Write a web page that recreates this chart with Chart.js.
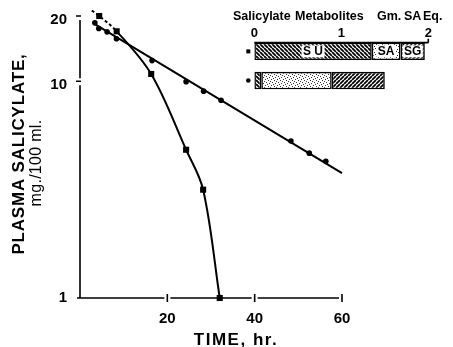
<!DOCTYPE html>
<html><head><meta charset="utf-8">
<script src="https://cdn.jsdelivr.net/npm/chart.js@4"></script>
<style>html,body{margin:0;padding:0;background:#fff}#wrap{position:relative;width:453px;height:347px}canvas{position:absolute;left:0;top:0}</style>
</head><body><div id="wrap"><canvas id="main" width="453" height="347"></canvas><canvas id="inset" width="453" height="347"></canvas></div>
<script>
const FONT = '"Liberation Sans", Arial, Helvetica, sans-serif';

// ---- main plot data (time in hr, plasma salicylate mg/100 ml) ----
const squareLeadTime = [2.7];
const squareLeadLevel = [21.2];
const squareTime  = [4.4, 8.4, 16.3, 24.3, 28.2, 32.0];
const squareLevel = [20.0, 17.0, 10.8, 4.83, 3.16, 1.0];
const circleTime  = [3.4, 4.3, 6.2, 8.35, 16.5, 24.3, 28.3, 32.3, 48.3, 52.5, 56.3];
const circleLevel = [18.6, 17.5, 16.9, 15.7, 12.45, 9.96, 9.0, 8.17, 5.3, 4.66, 4.27];
const circleLineTime  = [3.3, 60];
const circleLineLevel = [18.4, 3.77];
const xTicks = [20, 40, 60];
const yTicks = [1, 10, 20];

// ---- inset: salicylate metabolites, Gm. SA Eq. ----
const insetRows = ['square', 'circle'];
const metabSU = [1.35, 0.08];
const metabSA = [0.33, 0.81];
const metabSG = [0.28, 0.61];
const insetTicks = [0, 1, 2];
const segLabels = ['S U', 'SA', 'SG'];

const pts = (xs, ys) => xs.map((v, i) => ({x: v, y: ys[i]}));

const axesPlugin = {
  id: 'axesMain',
  beforeDatasetsDraw(chart) {
    const {ctx, scales: {x, y}} = chart;
    const x0 = x.getPixelForValue(0), y1 = y.getPixelForValue(1);
    const y20 = y.getPixelForValue(20), y10 = y.getPixelForValue(10);
    ctx.save();
    ctx.strokeStyle = '#000'; ctx.lineWidth = 1.6; ctx.lineCap = 'butt';
    ctx.beginPath();
    ctx.moveTo(x0, y20 + 4); ctx.lineTo(x0, y10 - 3);
    ctx.moveTo(x0, y10 + 4); ctx.lineTo(x0, y1);
    [20, 10].forEach(v => { const p = y.getPixelForValue(v); ctx.moveTo(x0 - 4, p); ctx.lineTo(x0 + 1, p); });
    let start = x0 - 3;
    xTicks.forEach(v => {
      const p = x.getPixelForValue(v);
      ctx.moveTo(start, y1); ctx.lineTo(p - 3, y1);
      ctx.moveTo(p, y1 - 4); ctx.lineTo(p, y1 + 4);
      start = p + 3;
    });
    ctx.stroke();
    ctx.restore();
  },
  afterDraw(chart) {
    const {ctx, scales: {x, y}} = chart;
    const x0 = x.getPixelForValue(0), y1 = y.getPixelForValue(1);
    ctx.save();
    ctx.fillStyle = '#000';
    ctx.font = 'bold 15px ' + FONT;
    ctx.textAlign = 'right'; ctx.textBaseline = 'middle';
    yTicks.forEach(v => {
      const p = y.getPixelForValue(v);
      ctx.fillText(String(v), x0 - 13, v === 1 ? p : p + 4);
    });
    ctx.textAlign = 'center';
    xTicks.forEach(v => ctx.fillText(String(v), x.getPixelForValue(v), y1 + 21));
    ctx.font = 'bold 17px ' + FONT;
    ctx.letterSpacing = '1.5px';
    ctx.fillText('TIME, hr.', 236, 340);
    ctx.translate(19, 154);
    ctx.rotate(-Math.PI / 2);
    ctx.letterSpacing = '0.8px';
    ctx.fillText('PLASMA SALICYLATE,', 0, 0);
    ctx.letterSpacing = '0.3px';
    ctx.font = '16px ' + FONT;
    ctx.fillText('mg./100 ml.', -9, 18);
    ctx.restore();
  }
};

new Chart(document.getElementById('main'), {
  type: 'line',
  data: {
    datasets: [
      { data: pts(circleLineTime, circleLineLevel), borderColor: '#000', borderWidth: 2, pointRadius: 0, clip: false },
      { data: pts(circleTime, circleLevel), showLine: false, pointStyle: 'circle', pointRadius: 2.8,
        backgroundColor: '#000', borderColor: '#000', borderWidth: 0, clip: false },
      { data: pts(squareLeadTime.concat(squareTime), squareLeadLevel.concat(squareLevel)),
        borderColor: '#000', borderWidth: 2, tension: 0.35,
        pointStyle: 'rect', pointRadius: c => c.dataIndex === 0 ? 0 : 4.3,
        backgroundColor: '#000', pointBorderWidth: 0, clip: false,
        segment: { borderDash: c => c.p1DataIndex <= 2 ? [3, 2.5] : undefined } }
    ]
  },
  options: {
    responsive: false, animation: false, events: [],
    layout: { padding: { left: 80, right: 111, top: 16, bottom: 49 } },
    plugins: { legend: { display: false }, tooltip: { enabled: false } },
    scales: {
      x: { type: 'linear', min: 0, max: 60, display: false },
      y: { type: 'logarithmic', min: 1, max: 20, display: false }
    }
  },
  plugins: [axesPlugin]
});

// ---- patterns ----
function hatch(forward, step, lw) {
  const c = document.createElement('canvas'); c.width = c.height = step;
  const g = c.getContext('2d');
  g.fillStyle = '#fff'; g.fillRect(0, 0, step, step);
  g.strokeStyle = '#000'; g.lineWidth = lw; g.beginPath();
  for (let k = -1; k <= 1; k++) {
    if (forward) { g.moveTo(k * step, step); g.lineTo(k * step + step, 0); }
    else { g.moveTo(k * step, 0); g.lineTo(k * step + step, step); }
  }
  g.stroke();
  return g.createPattern(c, 'repeat');
}
function stipple() {
  const c = document.createElement('canvas'); c.width = c.height = 6;
  const g = c.getContext('2d');
  g.fillStyle = '#fff'; g.fillRect(0, 0, 6, 6);
  g.fillStyle = '#333';
  [[1,1],[4,2],[2,4],[5,5],[0,3],[3,0]].forEach(([a,b]) => g.fillRect(a, b, 1, 1));
  return g.createPattern(c, 'repeat');
}

const insetPlugin = {
  id: 'insetDeco',
  afterDraw(chart) {
    const {ctx, scales: {x, y}} = chart;
    const x0 = x.getPixelForValue(0), x2 = x.getPixelForValue(2);
    const bar0 = chart.getDatasetMeta(0).data[0].getProps(['y', 'height'], true);
    const bar1 = chart.getDatasetMeta(0).data[1].getProps(['y', 'height'], true);
    const topY = bar0.y - bar0.height / 2;
    ctx.save();
    ctx.strokeStyle = '#000'; ctx.lineWidth = 1.6;
    ctx.beginPath(); ctx.moveTo(x0, topY); ctx.lineTo(x2, topY);
    ctx.moveTo(x2, topY); ctx.lineTo(x2, topY - 4); ctx.stroke();
    ctx.fillStyle = '#000';
    ctx.font = 'bold 12.5px ' + FONT; ctx.textBaseline = 'middle'; ctx.textAlign = 'left';
    [['Salicylate', 233], ['Metabolites', 295], ['Gm.', 377], ['SA', 404], ['Eq.', 423]]
      .forEach(([w, px]) => ctx.fillText(w, px, 17));
    ctx.textAlign = 'center';
    ctx.font = 'bold 13px ' + FONT;
    insetTicks.forEach(v => ctx.fillText(String(v), x.getPixelForValue(v), 33));
    ctx.fillRect(x0 - 8, bar0.y - 2, 4, 4);
    ctx.beginPath(); ctx.arc(x0 - 6, bar1.y, 2.3, 0, Math.PI * 2); ctx.fill();
    ctx.font = 'bold 12px ' + FONT;
    segLabels.forEach((t, d) => {
      const el = chart.getDatasetMeta(d).data[0].getProps(['x', 'base', 'y'], true);
      const cx = (el.x + el.base) / 2;
      const w = ctx.measureText(t).width + 3;
      ctx.fillStyle = '#fff'; ctx.fillRect(cx - w / 2, el.y - 6, w, 12);
      ctx.fillStyle = '#000'; ctx.fillText(t, cx, el.y + 0.5);
    });
    ctx.restore();
  }
};

new Chart(document.getElementById('inset'), {
  type: 'bar',
  data: {
    labels: insetRows,
    datasets: [
      { data: metabSU, backgroundColor: hatch(false, 4, 1.8) },
      { data: metabSA, backgroundColor: stipple() },
      { data: metabSG, backgroundColor: hatch(true, 4, 1.8) }
    ].map(d => Object.assign(d, { borderColor: '#000', borderWidth: 1.6, borderSkipped: false,
                                  barPercentage: 0.6, categoryPercentage: 1 }))
  },
  options: {
    indexAxis: 'y', responsive: false, animation: false, events: [],
    layout: { padding: { left: 254.3, right: 24.7, top: 36.8, bottom: 251.9 } },
    plugins: { legend: { display: false }, tooltip: { enabled: false } },
    scales: {
      x: { stacked: true, min: 0, max: 2, display: false },
      y: { stacked: true, display: false }
    }
  },
  plugins: [insetPlugin]
});
</script></body></html>
